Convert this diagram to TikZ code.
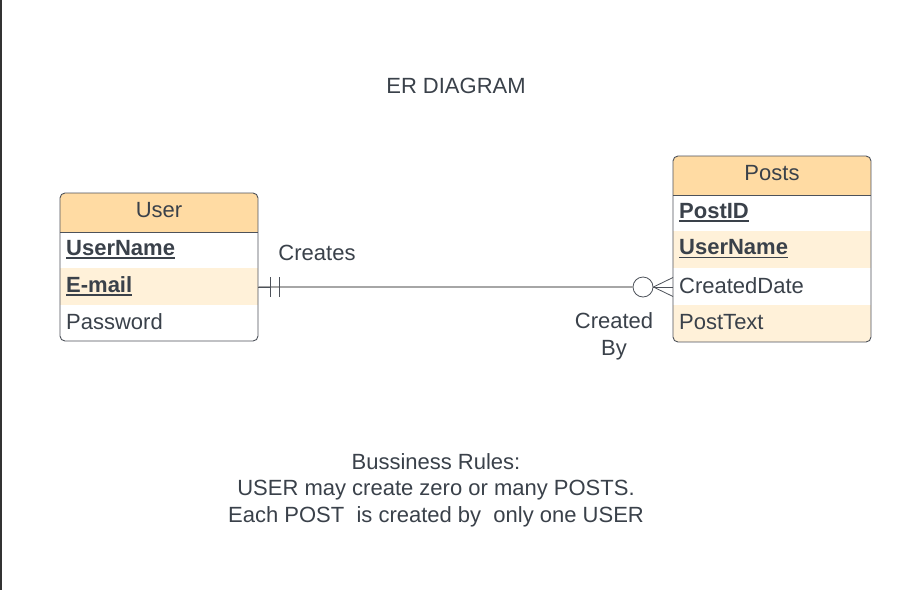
\documentclass[tikz,border=0pt]{standalone}
\usepackage{fontspec}
\setmainfont{Liberation Sans}
\newsavebox\mykeybox
\newcommand\mykeyul[1]{\sbox\mykeybox{#1}\rlap{\rule[-3.8pt]{\wd\mykeybox}{1.7pt}}\usebox\mykeybox}
\definecolor{hdr}{HTML}{FFDBA3}
\definecolor{lite}{HTML}{FFF1D9}
\definecolor{ink}{HTML}{3A414A}
\definecolor{edge}{HTML}{4D525A}
\definecolor{conn}{HTML}{A6A6A6}
\begin{document}
\begin{tikzpicture}[x=1pt,y=-1pt,
  every node/.style={font=\fontsize{22}{24}\selectfont, text=ink},
  row/.style={minimum width=198pt, text width=186pt, inner xsep=6pt, inner ysep=0pt, align=left, anchor=west},
  frame/.style={draw=edge, line width=0.9pt, rounded corners=5pt},
  key/.style={font=\fontsize{22}{24}\selectfont\bfseries}]
\useasboundingbox (0,0) rectangle (923,590);
\fill[white] (0,0) rectangle (923,590);
\fill[black!80] (0,0) rectangle (1.5,590);

\node (title) at (456,85.5) {ER DIAGRAM};

% User table
\begin{scope}
\clip[rounded corners=5pt] (60,193) rectangle (258,341);
\fill[hdr] (60,193) rectangle (258,232);
\fill[lite] (60,268) rectangle (258,305);
\end{scope}
\node[inner sep=0pt] (user) at (159,210.5) {User};
\node[row, key, minimum height=36pt] (u1) at (60,249.5) {\mykeyul{UserName}};
\node[row, key, minimum height=37pt] (u2) at (60,286) {\mykeyul{E-mail}};
\node[row, minimum height=36pt] (u3) at (60,322) {Password};
\draw[draw=edge, line width=0.9pt] (60,232) -- (258,232);
\draw[frame] (60,193) rectangle (258,341);

% Posts table
\begin{scope}
\clip[rounded corners=5pt] (673,156) rectangle (871,342);
\fill[hdr] (673,156) rectangle (871,195);
\fill[lite] (673,231) rectangle (871,268);
\fill[lite] (673,305) rectangle (871,342);
\end{scope}
\node[inner sep=0pt] (posts) at (772,173.5) {Posts};
\node[row, key, minimum height=36pt] (p1) at (673,212.5) {\mykeyul{PostID}};
\node[row, key, minimum height=37pt] (p2) at (673,249) {\mykeyul{UserName}};
\node[row, minimum height=37pt] (p3) at (673,285.5) {CreatedDate};
\node[row, minimum height=37pt] (p4) at (673,322.5) {PostText};
\draw[draw=edge, line width=0.9pt] (673,195) -- (871,195);
\draw[frame] (673,156) rectangle (871,342);

% Relationship
\node[circle, draw=edge, line width=0.8pt, fill=white, minimum size=20pt, inner sep=0pt] (zero) at (643,287) {};
\coordinate (ustart) at (258,287);
\coordinate (pend) at (673,287);
\draw[conn, line width=1.2pt] (ustart) -- (zero.west);
\draw[edge, line width=0.9pt] (ustart) -- ++(12,0);
\draw[edge, line width=0.9pt] ([xshift=12pt]ustart) ++(0,-10) -- ++(0,20);
\draw[edge, line width=0.9pt] ([xshift=21pt]ustart) ++(0,-10) -- ++(0,20);
\draw[edge, line width=0.8pt] (zero.east) -- (pend);
\draw[edge, line width=0.8pt] (zero.east) -- ([yshift=-9.5pt]pend);
\draw[edge, line width=0.8pt] (zero.east) -- ([yshift=9.5pt]pend);

\node (creates) at (317,252.5) {Creates};
\node[align=center, inner sep=0pt] (createdby) at (614,336.5) {Created\\[3pt]By};

\node[align=center, inner sep=0pt] (rules) at (436,490) {Bussiness Rules:\\[2.5pt]USER may create zero or many POSTS.\\[2.5pt]Each POST\ \ is created by\ \ only one USER};
\end{tikzpicture}
\end{document}
